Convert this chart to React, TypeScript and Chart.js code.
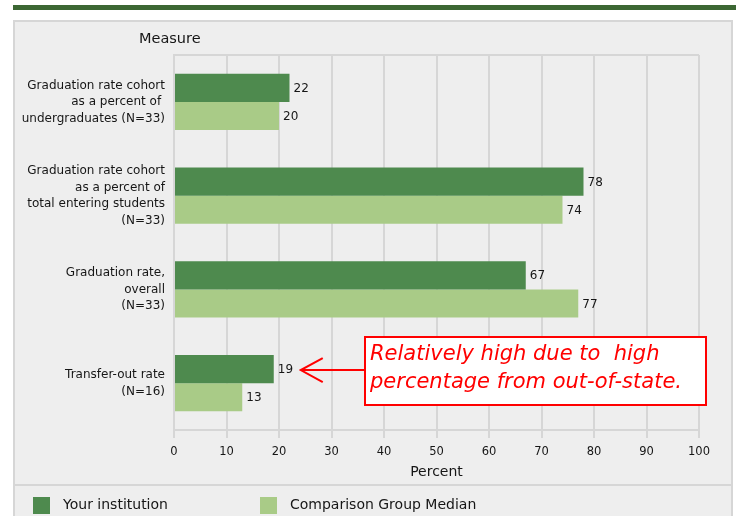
import React, { useEffect, useRef } from "react";
import { Chart, registerables } from "chart.js";

Chart.register(...registerables);

const categories: string[][] = [
  ["Graduation rate cohort", "as a percent of ", "undergraduates (N=33)"],
  ["Graduation rate cohort", "as a percent of", "total entering students", "(N=33)"],
  ["Graduation rate,", "overall", "(N=33)"],
  ["Transfer-out rate", "(N=16)"],
];
const yourInstitution = [22, 78, 67, 19];
const comparisonMedian = [20, 74, 77, 13];
const seriesNames = ["Your institution", "Comparison Group Median"];
const xTicks = [0, 10, 20, 30, 40, 50, 60, 70, 80, 90, 100];
const annotationLines = ["Relatively high due to  high", "percentage from out-of-state."];
const annotatedIndex = 3;

const DARK = "#4e8a4e";
const LIGHT = "#a9cb87";
const FONT = "'DejaVu Sans', sans-serif";
const TEXT = "#161616";

const decor = {
  id: "decor",
  beforeDraw(chart: any) {
    const ctx = chart.ctx;
    const { width, height } = chart;
    ctx.save();
    ctx.fillStyle = "#ffffff";
    ctx.fillRect(0, 0, width, height);
    // top green band
    ctx.fillStyle = "#3c6733";
    ctx.fillRect(13, 5, width - 13, 5);
    // panel
    ctx.fillStyle = "#eeeeee";
    ctx.fillRect(13, 20, 720, height);
    ctx.strokeStyle = "#d6d6d6";
    ctx.lineWidth = 2;
    ctx.strokeRect(14, 21, 718, height + 10);
    // legend separator
    ctx.beginPath();
    ctx.moveTo(14, 485);
    ctx.lineTo(732, 485);
    ctx.stroke();
    // Measure heading
    ctx.fillStyle = TEXT;
    ctx.font = `14.5px ${FONT}`;
    ctx.textAlign = "left";
    ctx.textBaseline = "middle";
    ctx.fillText("Measure", 139, 39);
    ctx.restore();
  },
  afterDatasetsDraw(chart: any) {
    const ctx = chart.ctx;
    const area = chart.chartArea;
    ctx.save();
    // top frame line
    ctx.strokeStyle = "#d6d6d6";
    ctx.lineWidth = 2;
    ctx.beginPath();
    ctx.moveTo(area.left, area.top);
    ctx.lineTo(area.right, area.top);
    ctx.stroke();
    // value labels
    ctx.fillStyle = TEXT;
    ctx.font = `12px ${FONT}`;
    ctx.textAlign = "left";
    ctx.textBaseline = "middle";
    chart.data.datasets.forEach((ds: any, di: number) => {
      const meta = chart.getDatasetMeta(di);
      meta.data.forEach((bar: any, i: number) => {
        ctx.fillText(String(ds.data[i]), bar.x + 4, bar.y + 1);
      });
    });
    // annotation
    const target = chart.getDatasetMeta(0).data[annotatedIndex];
    const ay = target.y + 1;
    const tipX = target.x + 27;
    const boxX = 365, boxY = 337, boxW = 341, boxH = 68;
    ctx.fillStyle = "#ffffff";
    ctx.fillRect(boxX, boxY, boxW, boxH);
    ctx.strokeStyle = "#ff0000";
    ctx.lineWidth = 2;
    ctx.strokeRect(boxX, boxY, boxW, boxH);
    ctx.beginPath();
    ctx.moveTo(boxX, ay);
    ctx.lineTo(tipX, ay);
    ctx.moveTo(tipX + 22, ay - 12);
    ctx.lineTo(tipX, ay);
    ctx.lineTo(tipX + 22, ay + 12);
    ctx.stroke();
    ctx.fillStyle = "#ff0000";
    ctx.font = `italic 21px ${FONT}`;
    ctx.textBaseline = "middle";
    ctx.fillText(annotationLines[0], 370, 355);
    ctx.fillText(annotationLines[1], 370, 383);
    // legend
    const colors = [DARK, LIGHT];
    const xs = [33, 260];
    ctx.font = `14px ${FONT}`;
    seriesNames.forEach((name, i) => {
      ctx.fillStyle = colors[i];
      ctx.fillRect(xs[i], 497, 17, 17);
      ctx.fillStyle = TEXT;
      ctx.fillText(name, xs[i] + 30, 505);
    });
    ctx.restore();
  },
};

export default function App() {
  const ref = useRef<HTMLCanvasElement>(null);
  useEffect(() => {
    const chart = new Chart(ref.current as HTMLCanvasElement, {
      type: "bar",
      data: {
        labels: categories,
        datasets: [
          { label: seriesNames[0], data: yourInstitution, backgroundColor: DARK },
          { label: seriesNames[1], data: comparisonMedian, backgroundColor: LIGHT },
        ],
      },
      options: {
        indexAxis: "y",
        animation: false,
        responsive: false,
        maintainAspectRatio: false,
        devicePixelRatio: 1,
        layout: { padding: { top: 55, right: 37, left: 0, bottom: 0 } },
        datasets: { bar: { categoryPercentage: 0.6, barPercentage: 1.0 } },
        plugins: { legend: { display: false }, tooltip: { enabled: false } },
        scales: {
          x: {
            min: 0,
            max: 100,
            afterFit: (s: any) => { s.height = 86; },
            afterBuildTicks: (s: any) => { s.ticks = xTicks.map((v) => ({ value: v })); },
            grid: { color: "#d6d6d6", lineWidth: 2, tickLength: 8, drawTicks: true },
            border: { display: true, color: "#d6d6d6", width: 2 },
            ticks: { color: TEXT, font: { family: FONT, size: 11.5 }, padding: 7, maxRotation: 0 },
            title: {
              display: true,
              text: "Percent",
              color: TEXT,
              font: { family: FONT, size: 14 },
              padding: { top: 0, bottom: 35 },
            },
          },
          y: {
            afterFit: (s: any) => { s.width = 174; },
            grid: { display: false, drawTicks: false },
            border: { display: true, color: "#d6d6d6", width: 2 },
            ticks: {
              color: TEXT,
              font: { family: FONT, size: 12, lineHeight: "16.5px" },
              padding: 9,
              autoSkip: false,
            },
          },
        },
      },
      plugins: [decor],
    } as any);
    return () => chart.destroy();
  }, []);
  return (
    <div style={{ position: "fixed", left: 0, top: 0, width: 736, height: 516 }}>
      <canvas ref={ref} width={736} height={516} style={{ display: "block" }} />
    </div>
  );
}
